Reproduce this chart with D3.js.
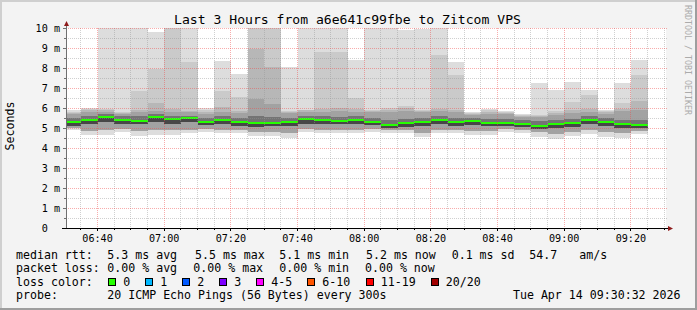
<!DOCTYPE html>
<html>
<head>
<meta charset="utf-8">
<script src="https://cdn.jsdelivr.net/npm/d3@7.9.0/dist/d3.min.js"></script>
<style>
  html, body { margin: 0; padding: 0; background: #f3f3f3; }
  svg { display: block; }
  text { font-family: "DejaVu Sans Mono", monospace; white-space: pre; }
</style>
</head>
<body>
<svg id="chart" width="697" height="310"></svg>
<script>
// 5 minute steps, Tue Apr 14 2026 (start of each step)
const stepStarts = [
  '06:30', '06:35', '06:40', '06:45', '06:50', '06:55', '07:00', '07:05', '07:10', '07:15',
  '07:20', '07:25', '07:30', '07:35', '07:40', '07:45', '07:50', '07:55', '08:00', '08:05',
  '08:10', '08:15', '08:20', '08:25', '08:30', '08:35', '08:40', '08:45', '08:50', '08:55',
  '09:00', '09:05', '09:10', '09:15', '09:20'
];

// sorted ping ranks per step, in ms (20 pings per step)
const ping20 = [5.88, 6.0, 10.5, 10.5, 10.5, 9.82, 10.5, 10.5, 5.98, 8.37, 7.7, 10.5, 10.5, 8.03, 10.5, 10.5, 10.5, 8.42, 10.5, 10.5,
  9.9, 9.95, 10.5, 8.32, 5.8, 5.95, 5.85, 5.7, 7.25, 6.92, 7.3, 6.92, 5.9, 7.25, 8.42];
const ping19 = [5.82, 5.95, 5.95, 5.8, 6.87, 7.93, 10.5, 8.32, 5.92, 6.87, 6.53, 10.5, 10.5, 5.85, 5.92, 8.78, 8.78, 6.5, 5.9, 5.98,
  6.12, 5.9, 8.65, 7.65, 5.75, 5.88, 5.8, 5.65, 5.67, 5.85, 6.32, 6.65, 5.85, 6.25, 7.65];
const ping18 = [5.76, 5.88, 5.9, 5.76, 5.92, 6.27, 5.95, 5.84, 5.82, 6.03, 5.83, 8.95, 8.03, 5.8, 5.88, 5.95, 6.0, 5.95, 5.85, 5.9,
  5.98, 5.85, 5.95, 5.9, 5.7, 5.8, 5.75, 5.6, 5.62, 5.75, 5.9, 5.95, 5.78, 5.95, 6.33];
const ping17 = [5.7, 5.78, 5.82, 5.7, 5.82, 5.86, 5.78, 5.78, 5.72, 5.82, 5.76, 6.45, 6.2, 5.76, 5.8, 5.82, 5.85, 5.82, 5.78, 5.8,
  5.85, 5.78, 5.85, 5.8, 5.65, 5.72, 5.7, 5.55, 5.55, 5.65, 5.75, 5.82, 5.7, 5.85, 5.9];
const ping14 = [5.5, 5.58, 5.68, 5.58, 5.58, 5.7, 5.6, 5.62, 5.5, 5.58, 5.5, 5.6, 5.55, 5.5, 5.6, 5.58, 5.55, 5.6, 5.5, 5.4,
  5.45, 5.5, 5.58, 5.5, 5.52, 5.45, 5.45, 5.4, 5.35, 5.4, 5.45, 5.6, 5.5, 5.42, 5.4];
const medianRtt = [5.28, 5.38, 5.53, 5.4, 5.37, 5.53, 5.43, 5.48, 5.32, 5.38, 5.3, 5.25, 5.25, 5.32, 5.45, 5.4, 5.37, 5.42, 5.32, 5.15,
  5.23, 5.32, 5.4, 5.28, 5.37, 5.25, 5.25, 5.2, 5.1, 5.2, 5.25, 5.42, 5.32, 5.2, 5.17];
const ping7 = [5.12, 5.2, 5.3, 5.22, 5.2, 5.3, 5.22, 5.28, 5.15, 5.2, 5.12, 5.05, 5.08, 5.1, 5.2, 5.2, 5.2, 5.22, 5.15, 5.0,
  5.05, 5.1, 5.2, 5.1, 5.15, 5.08, 5.08, 5.05, 4.95, 5.0, 5.05, 5.22, 5.1, 5.0, 5.0];
const ping4 = [5.0, 4.85, 4.88, 4.95, 4.85, 4.88, 4.88, 4.92, 4.95, 4.9, 4.9, 4.8, 4.8, 4.75, 4.95, 4.92, 4.92, 4.92, 4.95, 4.88,
  4.88, 4.75, 4.92, 4.9, 4.85, 4.85, 4.95, 4.88, 4.78, 4.7, 4.8, 4.88, 4.78, 4.75, 4.85];
const ping1 = [4.92, 4.65, 4.65, 4.82, 4.6, 4.65, 4.65, 4.73, 4.82, 4.73, 4.73, 4.6, 4.6, 4.5, 4.8, 4.77, 4.77, 4.77, 4.8, 4.73,
  4.73, 4.57, 4.77, 4.73, 4.65, 4.65, 4.82, 4.73, 4.57, 4.45, 4.6, 4.7, 4.57, 4.5, 4.68];

const yTickValues = [0, 1, 2, 3, 4, 5, 6, 7, 8, 9, 10];
const yTickLabels = ['0  ', '1 m', '2 m', '3 m', '4 m', '5 m', '6 m', '7 m', '8 m', '9 m', '10 m'];

const lossLabels = ['0', '1', '2', '3', '4-5', '6-10', '11-19', '20/20'];
const lossColors = ['#26ff00', '#00b8ff', '#0059ff', '#7e00ff', '#ff00ff', '#ff5500', '#ff0000', '#a10000'];

const rttStats = ['5.3 ms avg', '5.5 ms max', '5.1 ms min', '5.2 ms now', '0.1 ms sd', '54.7', 'am/s'];
const lossStats = ['0.00 % avg', '0.00 % max', '0.00 % min', '0.00 % now'];

const title = 'Last 3 Hours from a6e641c99fbe to Zitcom VPS';
const probeText = '20 ICMP Echo Pings (56 Bytes) every 300s';
const stampText = 'Tue Apr 14 09:30:32 2026';

// ---- layout ----
const W = 697, H = 310;
const plot = { left: 66, right: 666, top: 28, bottom: 228 };

const day = (hm, s = 0) => {
  const [h, m] = hm.split(':').map(Number);
  return new Date(2026, 3, 14, h, m, s);
};
const tEnd = day('09:30', 32);
const tStart = d3.timeHour.offset(tEnd, -3);

const x = d3.scaleTime().domain([tStart, tEnd]).range([plot.left, plot.right]);
const y = d3.scaleLinear().domain([0, 10]).range([plot.bottom, plot.top]);

const svg = d3.select('#chart');

// frame
svg.append('rect').attr('width', W).attr('height', H).attr('fill', '#f3f3f3');
svg.append('path').attr('d', `M1,${H} V1 H${W}`).attr('stroke', '#cfcfcf').attr('stroke-width', 2).attr('fill', 'none');
svg.append('path').attr('d', `M0,${H - 1} H${W - 1} V0`).attr('stroke', '#9e9e9e').attr('stroke-width', 2).attr('fill', 'none');

// canvas
svg.append('rect')
  .attr('x', plot.left).attr('y', plot.top)
  .attr('width', plot.right - plot.left).attr('height', plot.bottom - plot.top)
  .attr('fill', '#ffffff');

svg.append('clipPath').attr('id', 'clip')
  .append('rect')
  .attr('x', plot.left).attr('y', plot.top)
  .attr('width', plot.right - plot.left).attr('height', plot.bottom - plot.top);

// smoke bands, outer (light) to inner (dark)
const steps = stepStarts.map((s, i) => ({ t0: day(s), t1: d3.timeMinute.offset(day(s), 5), i }));
const bands = [
  [ping1, ping20, '#dddddd'],
  [ping4, ping19, '#cacaca'],
  [ping4, ping18, '#b7b7b7'],
  [ping4, ping17, '#a2a2a2'],
  [ping7, ping14, '#747474'],
  [ping7, medianRtt, '#474747']
];

const smoke = svg.append('g').attr('clip-path', 'url(#clip)');
bands.forEach(([lo, hi, color]) => {
  smoke.append('g')
    .selectAll('rect')
    .data(steps)
    .join('rect')
    .attr('x', (d) => x(d.t0))
    .attr('width', (d) => x(d.t1) - x(d.t0))
    .attr('y', (d) => y(hi[d.i]))
    .attr('height', (d) => y(lo[d.i]) - y(hi[d.i]))
    .attr('fill', color)
    .attr('shape-rendering', 'crispEdges');
});

// median, coloured by loss (all 0 here)
smoke.append('g')
  .selectAll('rect')
  .data(steps)
  .join('rect')
  .attr('x', (d) => x(d.t0))
  .attr('width', (d) => x(d.t1) - x(d.t0))
  .attr('y', (d) => Math.round(y(medianRtt[d.i])) - 1)
  .attr('height', 2)
  .attr('fill', lossColors[0])
  .attr('shape-rendering', 'crispEdges');

// grid on top
const grid = svg.append('g').attr('stroke-dasharray', '1,1').attr('shape-rendering', 'crispEdges');
const yMinor = d3.range(0.5, 10, 1);
const xTicks = x.ticks(d3.timeMinute.every(5));
const isMajor = (t) => t.getMinutes() % 20 === 0;

grid.selectAll('.hmin').data(yMinor).join('line')
  .attr('x1', plot.left).attr('x2', plot.right + 1)
  .attr('y1', (d) => Math.round(y(d)) + 0.5).attr('y2', (d) => Math.round(y(d)) + 0.5)
  .attr('stroke', 'rgba(150,150,150,0.45)');
grid.selectAll('.vmin').data(xTicks.filter((t) => !isMajor(t))).join('line')
  .attr('x1', (d) => Math.floor(x(d)) + 0.5).attr('x2', (d) => Math.floor(x(d)) + 0.5)
  .attr('y1', plot.top).attr('y2', plot.bottom)
  .attr('stroke', 'rgba(150,150,150,0.45)');
grid.selectAll('.hmaj').data(yTickValues.slice(1)).join('line')
  .attr('x1', plot.left).attr('x2', plot.right + 1)
  .attr('y1', (d) => Math.round(y(d)) + 0.5).attr('y2', (d) => Math.round(y(d)) + 0.5)
  .attr('stroke', 'rgba(240,70,70,0.45)');
grid.selectAll('.vmaj').data(xTicks.filter(isMajor)).join('line')
  .attr('x1', (d) => Math.floor(x(d)) + 0.5).attr('x2', (d) => Math.floor(x(d)) + 0.5)
  .attr('y1', plot.top).attr('y2', plot.bottom)
  .attr('stroke', 'rgba(240,70,70,0.45)');

// ticks
const ticks = svg.append('g').attr('shape-rendering', 'crispEdges');
ticks.selectAll('.ty').data(d3.range(0, 10.01, 0.5)).join('line')
  .attr('x1', (d) => (d % 1 === 0 ? plot.left - 3 : plot.left - 2)).attr('x2', plot.left)
  .attr('y1', (d) => Math.round(y(d)) + 0.5).attr('y2', (d) => Math.round(y(d)) + 0.5)
  .attr('stroke', '#707070');
ticks.selectAll('.tx').data(xTicks).join('line')
  .attr('x1', (d) => Math.floor(x(d)) + 0.5).attr('x2', (d) => Math.floor(x(d)) + 0.5)
  .attr('y1', plot.bottom).attr('y2', (d) => plot.bottom + (isMajor(d) ? 3 : 2))
  .attr('stroke', '#000');

// axes
svg.append('line')
  .attr('x1', plot.left + 0.5).attr('x2', plot.left + 0.5)
  .attr('y1', plot.bottom + 1).attr('y2', plot.top - 4)
  .attr('stroke', '#707070');
svg.append('line')
  .attr('x1', plot.left - 4).attr('x2', plot.right + 2)
  .attr('y1', plot.bottom + 0.5).attr('y2', plot.bottom + 0.5)
  .attr('stroke', '#000');
svg.append('path')
  .attr('d', `M${plot.left - 2},${plot.top - 2} L${plot.left + 3},${plot.top - 2} L${plot.left + 0.5},${plot.top - 7} Z`)
  .attr('fill', '#8e1b1b');
svg.append('path')
  .attr('d', `M${plot.right + 2},${plot.bottom - 2} L${plot.right + 2},${plot.bottom + 3} L${plot.right + 7},${plot.bottom + 0.5} Z`)
  .attr('fill', '#8e1b1b');

// axis labels
svg.append('g').selectAll('text').data(yTickValues).join('text')
  .attr('x', 60).attr('y', (d) => y(d) + 3.6)
  .attr('text-anchor', 'end')
  .attr('font-size', '10.15px')
  .attr('fill', '#000')
  .text((d, i) => yTickLabels[i]);

svg.append('g').selectAll('text').data(xTicks.filter(isMajor)).join('text')
  .attr('x', (d) => x(d)).attr('y', 242)
  .attr('text-anchor', 'middle')
  .attr('font-size', '10.15px')
  .attr('fill', '#000')
  .text(d3.timeFormat('%H:%M'));

// title and side texts
svg.append('text').attr('x', 347.5).attr('y', 24).attr('text-anchor', 'middle')
  .attr('font-size', '13.1px').attr('fill', '#000').text(title);
svg.append('text').attr('transform', 'translate(14,126) rotate(-90)').attr('text-anchor', 'middle')
  .attr('font-size', '11.6px').attr('fill', '#000').text('Seconds');
svg.append('text').attr('transform', 'translate(684.7,5) rotate(90)')
  .attr('font-size', '8.3px').attr('fill', '#ababab').text('RRDTOOL / TOBI OETIKER');

// legend
const legend = svg.append('g').attr('font-size', '11.6px').attr('fill', '#000');
const lx = 16, vx = 107.3;
const rows = [258.5, 272, 285.5, 299];

legend.append('text').attr('x', lx).attr('y', rows[0]).text('median rtt:');
[107.3, 195, 279.3, 366, 451.7, 529.3, 579.3].forEach((px, i) => {
  legend.append('text').attr('x', px).attr('y', rows[0]).text(rttStats[i]);
});

legend.append('text').attr('x', lx).attr('y', rows[1]).text('packet loss:');
[107.3, 193.3, 279.3, 365].forEach((px, i) => {
  legend.append('text').attr('x', px).attr('y', rows[1]).text(lossStats[i]);
});

legend.append('text').attr('x', lx).attr('y', rows[2]).text('loss color:');
const swatchX = [108.5, 145.5, 182.5, 219.5, 256.5, 307.5, 366, 431];
lossLabels.forEach((lab, i) => {
  legend.append('rect')
    .attr('x', swatchX[i]).attr('y', 278.5).attr('width', 7).attr('height', 7)
    .attr('fill', lossColors[i]).attr('stroke', '#000').attr('stroke-width', 1)
    .attr('shape-rendering', 'crispEdges');
  legend.append('text').attr('x', swatchX[i] + 14.8).attr('y', rows[2]).text(lab);
});

legend.append('text').attr('x', lx).attr('y', rows[3]).text('probe:');
legend.append('text').attr('x', vx).attr('y', rows[3]).text(probeText);
legend.append('text').attr('x', 680.5).attr('y', rows[3]).attr('text-anchor', 'end').text(stampText);
</script>
</body>
</html>
